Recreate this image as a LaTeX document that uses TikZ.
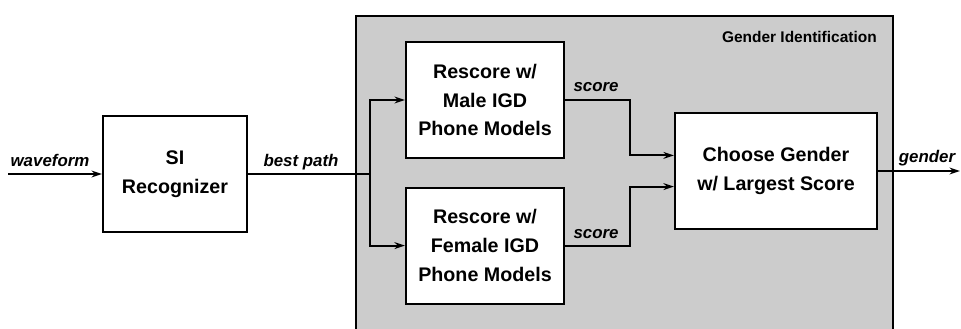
\documentclass[tikz,border=0pt]{standalone}
\usepackage{fontspec}
\setmainfont{Liberation Sans}
\usetikzlibrary{arrows.meta}
\definecolor{panel}{gray}{0.8}
\tikzset{
   line/.style ={
      -, line width=0.5mm, color=black,
   },
   arrow/.style ={
      -{Stealth[length=2.6mm,width=1.7mm]}, line width=0.5mm, color=black,
   },
   block/.style ={
      rectangle, draw, fill=white, line width=0.55mm, align=center,
      font=\fontsize{14}{20.5}\selectfont\bfseries,
      minimum height=29mm,
   },
   tag/.style ={
      font=\fontsize{12}{14}\selectfont\bfseries\itshape, inner sep=0mm, anchor=base,
   },
}

\begin{document}
\begin{tikzpicture}

      \useasboundingbox (0,0) rectangle (240.25mm,-82mm);
      \clip (0,0) rectangle (240.25mm,-82mm);

      % shaded panel
      \node[
         rectangle,
         draw,
         fill=panel,
         line width = 0.4mm,
         anchor=north west,
         minimum width=134.25mm,
         minimum height=82mm,
      ] (gid) at (88.75mm,-3.75mm){};

      \node[
         font=\fontsize{11}{13}\selectfont\bfseries,
         inner sep=0mm,
         anchor=base east,
      ] (gidtitle) at (219.25mm,-10.6mm){Gender Identification};

      \node[block, minimum width=36mm] (si) at (43.75mm,-43.5mm){SI\\Recognizer};

      \node[block, minimum width=39.5mm] (male) at (121.25mm,-25mm){Rescore w/\\Male IGD\\Phone Models};

      \node[block, minimum width=39.5mm] (female) at (121.25mm,-61.4mm){Rescore w/\\Female IGD\\Phone Models};

      \node[block, minimum width=50.5mm] (choose) at (194mm,-42.75mm){Choose Gender\\w/ Largest Score};

      \coordinate (wavein) at (2mm,-43.5mm);
      \coordinate (split) at (92.5mm,-43.5mm);
      \coordinate (mjoin) at (157.5mm,-25mm);
      \coordinate (fjoin) at (157.5mm,-61.4mm);
      \coordinate (genout) at (240mm,-42.75mm);

      \draw[arrow] (wavein) -- (si.west);
      \draw[line]  (si.east) -- (split);
      \draw[arrow] (split) |- (male.west);
      \draw[arrow] (split) |- (female.west);
      \draw[arrow] (male.east) -- (mjoin) |- ([yshift=3.9mm]choose.west);
      \draw[arrow] (female.east) -- (fjoin) |- ([yshift=-3.9mm]choose.west);
      \draw[arrow] (choose.east) -- (genout);

      \node[tag] (wavetag) at (12.5mm,-41.7mm){waveform};
      \node[tag] (pathtag) at (75.25mm,-41.7mm){best path};
      \node[tag] (mscore) at (149mm,-22.9mm){score};
      \node[tag] (fscore) at (149mm,-59.5mm){score};
      \node[tag] (gentag) at (231.75mm,-40.5mm){gender};

   \end{tikzpicture}
\end{document}
